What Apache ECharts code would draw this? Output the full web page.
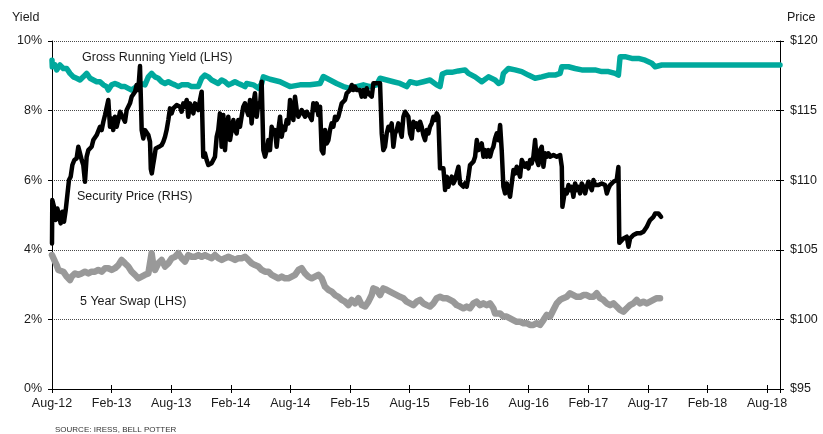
<!DOCTYPE html>
<html>
<head>
<meta charset="utf-8">
<title>Yield and Security Price</title>
<script src="https://cdn.jsdelivr.net/npm/echarts/dist/echarts.min.js"></script>
<style>
  html, body { margin: 0; padding: 0; background: #fff; }
  #chart { width: 823px; height: 434px; }
</style>
</head>
<body>
<div id="chart"></div>
<script>
// x values are months elapsed since August 2012
const tickLabels = ['Aug-12', 'Feb-13', 'Aug-13', 'Feb-14', 'Aug-14', 'Feb-15', 'Aug-15',
  'Feb-16', 'Aug-16', 'Feb-17', 'Aug-17', 'Feb-18', 'Aug-18'];

// Gross running yield, % (left axis)
const grossRunningYield = [
  [0, 9.45], [0.03, 9.26], [0.3, 9.31], [0.47, 9.17], [0.81, 9.31], [1.14, 9.21], [1.48, 9.21],
  [1.81, 9.07], [2.15, 8.97], [2.48, 8.93], [2.82, 8.88], [3.15, 8.97], [3.49, 9.07], [3.83, 8.93],
  [4.16, 8.88], [4.5, 8.83], [4.83, 8.83], [5.17, 8.74], [5.5, 8.69], [5.67, 8.59], [6.01, 8.74],
  [6.34, 8.78], [6.68, 8.74], [7.01, 8.69], [7.35, 8.69], [7.68, 8.64], [8.02, 8.59], [8.19, 8.64],
  [8.52, 8.69], [8.86, 8.78], [9.03, 8.83], [9.36, 8.74], [9.7, 8.97], [10.03, 9.07], [10.37, 8.97],
  [10.7, 8.93], [11.04, 8.83], [11.38, 8.78], [11.71, 8.83], [12.05, 8.78], [12.38, 8.74],
  [12.72, 8.69], [13.05, 8.74], [13.39, 8.74], [13.72, 8.74], [14.06, 8.69], [14.4, 8.69],
  [14.73, 8.69], [15.07, 8.93], [15.4, 9.02], [15.74, 8.97], [16.07, 8.88], [16.41, 8.83],
  [16.74, 8.78], [17.08, 8.88], [17.42, 8.83], [17.75, 8.74], [18.09, 8.78], [18.42, 8.83],
  [18.76, 8.78], [19.09, 8.74], [19.43, 8.69], [19.6, 8.78], [20.27, 8.74], [20.78, 8.64],
  [21.11, 8.78], [21.28, 8.97], [21.95, 8.9], [22.96, 8.83], [23.96, 8.69], [24.97, 8.74],
  [25.98, 8.74], [26.99, 8.78], [27.32, 8.98], [27.99, 8.88], [28.66, 8.78], [29.34, 8.69],
  [30.01, 8.64], [30.68, 8.69], [31.35, 8.74], [32.02, 8.69], [32.69, 8.74], [33.03, 8.93],
  [33.7, 8.88], [34.37, 8.83], [35.04, 8.78], [35.71, 8.69], [36.05, 8.83], [36.72, 8.78],
  [37.39, 8.83], [38.06, 8.88], [38.73, 8.74], [39.07, 8.69], [39.3, 9.05], [39.74, 9.1],
  [40.25, 9.1], [40.92, 9.14], [41.59, 9.17], [41.93, 9.07], [42.6, 8.97], [43.27, 8.83],
  [43.94, 8.97], [44.61, 8.88], [44.95, 8.78], [45.28, 8.83], [45.45, 9.07], [45.95, 9.21],
  [46.63, 9.17], [47.3, 9.12], [47.97, 9.02], [48.64, 8.93], [49.31, 8.97], [49.98, 9.02],
  [50.65, 9.02], [51.16, 9.07], [51.33, 9.26], [52.0, 9.26], [52.67, 9.21], [53.34, 9.17],
  [54.01, 9.17], [54.68, 9.17], [55.35, 9.12], [56.03, 9.12], [56.7, 9.07], [57.03, 9.02],
  [57.2, 9.55], [57.7, 9.55], [58.38, 9.5], [59.05, 9.5], [59.72, 9.45], [60.39, 9.36],
  [60.73, 9.26], [61.4, 9.31], [73.3, 9.31]
];

// 5 year swap rate, % (left axis)
const fiveYearSwap = [
  [0, 3.85], [0.13, 3.8], [0.3, 3.66], [0.47, 3.56], [0.64, 3.42], [0.81, 3.47], [1.14, 3.37],
  [1.48, 3.23], [1.81, 3.13], [1.98, 3.23], [2.32, 3.32], [2.65, 3.28], [2.99, 3.32], [3.32, 3.37],
  [3.66, 3.32], [3.99, 3.37], [4.33, 3.37], [4.66, 3.42], [5.0, 3.37], [5.34, 3.47], [5.67, 3.47],
  [6.01, 3.42], [6.34, 3.47], [6.68, 3.56], [7.01, 3.71], [7.35, 3.61], [7.68, 3.52], [8.02, 3.37],
  [8.36, 3.28], [8.69, 3.18], [9.03, 3.23], [9.36, 3.28], [9.7, 3.32], [10.03, 3.9], [10.2, 3.56],
  [10.37, 3.42], [10.7, 3.61], [11.04, 3.71], [11.38, 3.52], [11.71, 3.61], [12.05, 3.76],
  [12.39, 3.8], [12.72, 3.9], [13.06, 3.76], [13.39, 3.66], [13.73, 3.85], [14.07, 3.8],
  [14.4, 3.8], [14.74, 3.85], [15.07, 3.8], [15.41, 3.85], [15.74, 3.8], [16.08, 3.76],
  [16.41, 3.85], [16.75, 3.76], [17.09, 3.71], [17.42, 3.76], [17.76, 3.8], [18.09, 3.76],
  [18.43, 3.71], [18.76, 3.76], [19.1, 3.76], [19.44, 3.8], [19.77, 3.71], [20.11, 3.61],
  [20.44, 3.56], [20.78, 3.52], [21.11, 3.42], [21.45, 3.37], [21.79, 3.37], [22.12, 3.28],
  [22.46, 3.23], [22.79, 3.18], [23.13, 3.23], [23.46, 3.18], [23.8, 3.18], [24.14, 3.23],
  [24.47, 3.28], [24.81, 3.42], [25.14, 3.47], [25.48, 3.32], [25.81, 3.23], [26.15, 3.18],
  [26.48, 3.23], [26.82, 3.28], [27.16, 3.18], [27.49, 2.94], [27.83, 2.85], [28.16, 2.8],
  [28.5, 2.7], [28.84, 2.65], [29.17, 2.56], [29.51, 2.51], [29.84, 2.41], [30.18, 2.56],
  [30.51, 2.46], [30.85, 2.61], [31.19, 2.41], [31.52, 2.37], [31.86, 2.51], [32.19, 2.7],
  [32.36, 2.89], [32.69, 2.85], [33.03, 2.7], [33.36, 2.89], [33.7, 2.85], [34.03, 2.8],
  [34.37, 2.75], [34.71, 2.7], [35.04, 2.65], [35.38, 2.61], [35.71, 2.51], [36.05, 2.46],
  [36.38, 2.41], [36.72, 2.51], [37.06, 2.56], [37.39, 2.46], [37.73, 2.41], [38.06, 2.37],
  [38.4, 2.46], [38.73, 2.61], [39.07, 2.65], [39.4, 2.61], [39.74, 2.61], [40.08, 2.56],
  [40.41, 2.51], [40.75, 2.41], [41.08, 2.37], [41.42, 2.32], [41.75, 2.37], [42.09, 2.32],
  [42.43, 2.46], [42.76, 2.51], [43.1, 2.41], [43.43, 2.46], [43.77, 2.41], [44.1, 2.46],
  [44.44, 2.32], [44.61, 2.17], [44.78, 2.13], [45.11, 2.17], [45.45, 2.08], [45.78, 2.08],
  [46.12, 2.03], [46.45, 1.98], [46.79, 1.93], [47.13, 1.93], [47.46, 1.89], [47.8, 1.89],
  [48.13, 1.84], [48.47, 1.84], [48.8, 1.89], [49.14, 1.84], [49.48, 1.98], [49.81, 2.13],
  [50.15, 2.08], [50.48, 2.27], [50.82, 2.46], [51.15, 2.56], [51.49, 2.61], [51.83, 2.65],
  [52.16, 2.75], [52.5, 2.7], [52.83, 2.65], [53.17, 2.65], [53.5, 2.7], [53.84, 2.7],
  [54.18, 2.65], [54.51, 2.65], [54.85, 2.75], [55.18, 2.61], [55.52, 2.56], [55.85, 2.46],
  [56.19, 2.41], [56.53, 2.46], [56.86, 2.37], [57.2, 2.27], [57.53, 2.22], [57.87, 2.32],
  [58.2, 2.41], [58.54, 2.46], [58.87, 2.56], [59.21, 2.46], [59.55, 2.51], [59.88, 2.46],
  [60.22, 2.51], [60.55, 2.56], [60.89, 2.61], [61.22, 2.61]
];

// Security price, $ (right axis)
const securityPrice = [
  [0, 105.46], [0.03, 108.57], [0.2, 108.09], [0.37, 107.14], [0.54, 107.97], [0.7, 107.49],
  [0.87, 106.9], [1.04, 107.73], [1.21, 107.02], [1.38, 107.85], [1.54, 107.73], [1.71, 110.01],
  [1.88, 110.25], [2.05, 111.09], [2.25, 111.45], [2.48, 111.57], [2.65, 112.4], [2.82, 111.93],
  [2.99, 111.45], [3.15, 111.09], [3.32, 109.89], [3.49, 111.69], [3.66, 112.16], [3.83, 112.05],
  [3.99, 112.4], [4.16, 112.88], [4.33, 113.0], [4.5, 113.24], [4.66, 113.36], [4.83, 113.84],
  [5.0, 113.6], [5.17, 114.2], [5.34, 114.68], [5.5, 114.56], [5.67, 115.76], [5.84, 113.84],
  [6.01, 114.44], [6.17, 113.6], [6.34, 114.56], [6.51, 113.84], [6.68, 114.32], [6.85, 114.92],
  [7.01, 114.68], [7.18, 114.56], [7.35, 114.2], [7.52, 115.04], [7.68, 115.16], [7.85, 115.52],
  [8.02, 116.0], [8.19, 116.12], [8.36, 116.36], [8.52, 116.84], [8.69, 116.48], [8.86, 118.2],
  [9.03, 113.6], [9.19, 113.0], [9.36, 113.6], [9.53, 113.48], [9.7, 113.24], [9.87, 112.76],
  [9.95, 110.8], [10.05, 110.49], [10.18, 111.1], [10.3, 111.6], [10.44, 112.28], [10.6, 112.16],
  [10.77, 112.4],
  [11.04, 112.52], [11.21, 112.76], [11.38, 113.12], [11.54, 113.6], [11.71, 114.32],
  [11.88, 115.16], [12.05, 114.8], [12.21, 115.16], [12.38, 115.04], [12.55, 115.4],
  [12.72, 115.52], [12.89, 115.28], [13.05, 114.92], [13.22, 115.52], [13.39, 115.28],
  [13.56, 115.76], [13.72, 114.56], [13.89, 115.52], [14.06, 115.16], [14.23, 114.8],
  [14.4, 115.52], [14.56, 115.64], [14.73, 115.04], [14.9, 115.76], [15.07, 116.36],
  [15.23, 111.69], [15.4, 111.93], [15.57, 111.45], [15.74, 111.09], [15.91, 110.97],
  [16.07, 111.21], [16.24, 111.33], [16.41, 111.69], [16.58, 113.12], [16.74, 113.6],
  [16.91, 114.8], [17.08, 112.4], [17.25, 114.68], [17.42, 112.16], [17.58, 113.84],
  [17.75, 114.56], [17.92, 112.88], [18.09, 113.6], [18.26, 114.32], [18.42, 113.6],
  [18.59, 113.36], [18.76, 114.32], [18.93, 113.84], [19.09, 114.56], [19.26, 115.28],
  [19.43, 115.52], [19.6, 115.04], [19.77, 114.68], [19.94, 115.76], [20.1, 114.08],
  [20.27, 115.52], [20.44, 116.24], [20.61, 114.56], [20.78, 115.52], [20.94, 115.28],
  [21.11, 117.08], [21.28, 112.16], [21.45, 111.69], [21.62, 112.16], [21.78, 112.88],
  [21.95, 112.16], [22.12, 113.84], [22.29, 113.36], [22.45, 113.6], [22.62, 112.4],
  [22.79, 113.6], [22.96, 114.56], [23.13, 113.12], [23.29, 113.84], [23.46, 113.6],
  [23.63, 114.32], [23.8, 114.08], [23.97, 115.76], [24.13, 114.8], [24.3, 114.32],
  [24.47, 116.0], [24.64, 115.04], [24.8, 114.56], [24.97, 114.8], [25.14, 115.04],
  [25.31, 114.8], [25.48, 114.56], [25.64, 114.92], [25.81, 114.8], [25.98, 114.56],
  [26.15, 114.32], [26.31, 115.52], [26.48, 115.04], [26.65, 115.52], [26.82, 114.68],
  [26.99, 115.28], [27.15, 112.16], [27.32, 111.93], [27.49, 113.6], [27.66, 112.64],
  [27.83, 112.88], [27.99, 113.6], [28.16, 114.08], [28.33, 113.84], [28.5, 114.56],
  [28.66, 114.32], [28.83, 114.56], [29.0, 115.04], [29.17, 115.52], [29.34, 115.64],
  [29.5, 115.76], [29.67, 116.24], [29.84, 116.24], [30.01, 116.48], [30.18, 116.84],
  [30.34, 116.48], [30.51, 116.72], [30.68, 116.48], [30.85, 116.6], [31.01, 116.48],
  [31.18, 116.0], [31.35, 116.48], [31.52, 116.0], [31.69, 116.6], [31.85, 116.24],
  [32.02, 116.36], [32.19, 116.0], [32.36, 116.96], [32.52, 117.08], [32.69, 116.96],
  [32.86, 116.96], [33.03, 116.96], [33.2, 113.36], [33.36, 112.16], [33.53, 112.4],
  [33.7, 113.36], [33.87, 113.84], [34.04, 113.6], [34.2, 114.08], [34.37, 112.4],
  [34.54, 113.36], [34.71, 113.6], [34.87, 114.08], [35.04, 113.6], [35.21, 113.12],
  [35.38, 114.56], [35.55, 114.92], [35.71, 114.8], [35.88, 114.56], [36.05, 113.36],
  [36.22, 113.0], [36.39, 114.2], [36.55, 113.84], [36.72, 114.08], [36.89, 113.6],
  [37.06, 114.2], [37.22, 113.84], [37.39, 113.24], [37.56, 112.88], [37.73, 113.6],
  [37.9, 113.36], [38.06, 113.84], [38.23, 114.08], [38.4, 114.56], [38.57, 114.32],
  [38.74, 114.8], [38.9, 114.56], [39.07, 110.85], [39.24, 110.73], [39.41, 110.85],
  [39.58, 109.29], [39.75, 110.25], [39.91, 109.53], [40.08, 110.01], [40.25, 110.25],
  [40.42, 109.77], [40.58, 110.01], [40.75, 110.49], [40.92, 110.97], [41.09, 109.77],
  [41.26, 109.89], [41.42, 109.53], [41.59, 109.77], [41.76, 109.53], [41.93, 110.25],
  [42.09, 111.09], [42.26, 110.97], [42.43, 111.33], [42.6, 111.69], [42.77, 112.88],
  [42.93, 112.16], [43.1, 112.4], [43.27, 112.64], [43.44, 111.69], [43.61, 112.16],
  [43.77, 111.69], [43.94, 112.16], [44.11, 111.69], [44.28, 112.16], [44.44, 112.4],
  [44.61, 113.0], [44.78, 113.36], [44.95, 112.88], [45.12, 113.96], [45.28, 112.16],
  [45.45, 109.53], [45.62, 109.05], [45.79, 109.77], [45.95, 109.77], [46.12, 108.81],
  [46.29, 108.69], [46.46, 110.73], [46.63, 110.49], [46.79, 110.97], [46.96, 110.85],
  [47.13, 110.25], [47.3, 111.45], [47.47, 111.57], [47.63, 110.97], [47.8, 111.21],
  [47.97, 110.85], [48.14, 111.45], [48.3, 111.21], [48.47, 111.69], [48.64, 112.88],
  [48.81, 111.45], [48.98, 111.09], [49.14, 112.16], [49.31, 112.4], [49.48, 110.97],
  [49.65, 111.93], [49.82, 111.69], [49.98, 111.93], [50.15, 111.69], [50.32, 111.81],
  [50.49, 111.81], [50.65, 111.69], [50.82, 111.69], [50.99, 111.81], [51.16, 111.81],
  [51.33, 110.97], [51.39, 108.09], [51.49, 108.09], [51.66, 109.29], [51.83, 109.05],
  [52.0, 109.65], [52.16, 109.29], [52.33, 109.53], [52.5, 108.81], [52.67, 109.77],
  [52.84, 109.29], [53.0, 109.53], [53.17, 109.05], [53.34, 109.77], [53.51, 109.53],
  [53.68, 109.05], [53.84, 109.53], [54.01, 109.89], [54.18, 109.77], [54.35, 109.29],
  [54.52, 110.01], [54.68, 109.65], [54.85, 109.77], [55.02, 109.65], [55.19, 109.53],
  [55.35, 109.77], [55.52, 109.89], [55.69, 109.65], [55.86, 109.05], [56.03, 109.41],
  [56.19, 109.65], [56.36, 109.77], [56.53, 109.89], [56.7, 109.77], [56.86, 110.01],
  [57.03, 110.95], [57.12, 105.5], [57.3, 105.4], [57.54, 105.82], [57.7, 105.7],
  [57.87, 105.94], [58.04, 105.22], [58.21, 105.82], [58.38, 105.94], [58.54, 106.06],
  [58.71, 105.94], [58.88, 106.18], [59.05, 106.06], [59.21, 106.18], [59.38, 106.06],
  [59.55, 106.3], [59.72, 106.42], [59.89, 106.66], [60.05, 106.9], [60.22, 107.14],
  [60.39, 107.02], [60.56, 107.37], [60.73, 107.61], [60.89, 107.73], [61.06, 107.61],
  [61.33, 107.37]
];

const FONT = '"Liberation Sans", Arial, Helvetica, sans-serif';
const TEXT = '#1a1a1a';
const X_MAX = 73.3;

const chart = echarts.init(document.getElementById('chart'), null, { renderer: 'canvas' });

function monthLabel(v) {
  const k = Math.round(v / 6);
  if (Math.abs(v - k * 6) > 1e-6 || k < 0 || k >= tickLabels.length) return '';
  return tickLabels[k];
}

const labelStyle = { color: TEXT, fontSize: 12.5, fontFamily: FONT };

chart.setOption({
  animation: false,
  backgroundColor: '#ffffff',
  grid: { left: 52, right: 43, top: 41, bottom: 45, containLabel: false },
  xAxis: [
    {
      type: 'value', min: 0, max: X_MAX, interval: 6,
      axisLine: { show: true, onZero: false, lineStyle: { color: '#000', width: 1 } },
      axisTick: { show: true, inside: false, length: 4, lineStyle: { color: '#000', width: 1 } },
      axisLabel: Object.assign({ formatter: monthLabel, margin: 8, showMaxLabel: true }, labelStyle),
      splitLine: { show: false }
    },
    {
      type: 'value', min: 0, max: X_MAX, interval: 6, position: 'bottom',
      axisLine: { show: false, onZero: false },
      axisTick: { show: true, inside: true, length: 4, lineStyle: { color: '#000', width: 1 } },
      axisLabel: { show: false },
      splitLine: { show: false }
    }
  ],
  yAxis: [
    {
      type: 'value', min: 0, max: 10, interval: 2, position: 'left',
      axisLine: { show: true, onZero: false, lineStyle: { color: '#000', width: 1 } },
      axisTick: { show: true, inside: false, length: 4, lineStyle: { color: '#000', width: 1 } },
      axisLabel: Object.assign({ formatter: '{value}%', margin: 10 }, labelStyle),
      splitLine: { show: true, lineStyle: { color: '#4a4a4a', width: 1, type: [1, 1] } }
    },
    {
      type: 'value', min: 95, max: 120, interval: 5, position: 'right',
      axisLine: { show: true, onZero: false, lineStyle: { color: '#000', width: 1 } },
      axisTick: { show: true, inside: false, length: 4, lineStyle: { color: '#000', width: 1 } },
      axisLabel: Object.assign({ formatter: '${value}', margin: 10 }, labelStyle),
      splitLine: { show: false }
    },
    {
      // inner half of the right-hand tick marks
      type: 'value', min: 95, max: 120, interval: 5, position: 'right',
      axisLine: { show: false, onZero: false },
      axisTick: { show: true, inside: true, length: 4, lineStyle: { color: '#000', width: 1 } },
      axisLabel: { show: false },
      splitLine: { show: false }
    }
  ],
  series: [
    {
      name: 'Gross Running Yield (LHS)', type: 'line', xAxisIndex: 0, yAxisIndex: 0,
      data: grossRunningYield, showSymbol: false, symbol: 'none', z: 2,
      lineStyle: { color: '#00A99D', width: 5.5, join: 'round', cap: 'round' }
    },
    {
      name: '5 Year Swap (LHS)', type: 'line', xAxisIndex: 0, yAxisIndex: 0,
      data: fiveYearSwap, showSymbol: false, symbol: 'none', z: 2,
      lineStyle: { color: '#999999', width: 6.5, join: 'round', cap: 'round' }
    },
    {
      name: 'Security Price (RHS)', type: 'line', xAxisIndex: 0, yAxisIndex: 1,
      data: securityPrice, showSymbol: false, symbol: 'none', z: 3,
      lineStyle: { color: '#000000', width: 4.5, join: 'round', cap: 'round' }
    }
  ],
  graphic: [
    { type: 'text', left: 12, top: 11, z: 10,
      style: { text: 'Yield', fill: TEXT, font: '12.5px ' + FONT } },
    { type: 'text', left: 787, top: 11, z: 10,
      style: { text: 'Price', fill: TEXT, font: '12.5px ' + FONT } },
    { type: 'text', left: 82, top: 51, z: 10,
      style: { text: 'Gross Running Yield (LHS)', fill: TEXT, font: '12.5px ' + FONT } },
    { type: 'text', left: 77, top: 190, z: 10,
      style: { text: 'Security Price (RHS)', fill: TEXT, font: '12.5px ' + FONT } },
    { type: 'text', left: 80, top: 295, z: 10,
      style: { text: '5 Year Swap (LHS)', fill: TEXT, font: '12.5px ' + FONT } },
    { type: 'text', left: 55, top: 426, z: 10,
      style: { text: 'SOURCE: IRESS, BELL POTTER', fill: '#333', font: '8px ' + FONT } }
  ]
});
</script>
</body>
</html>
